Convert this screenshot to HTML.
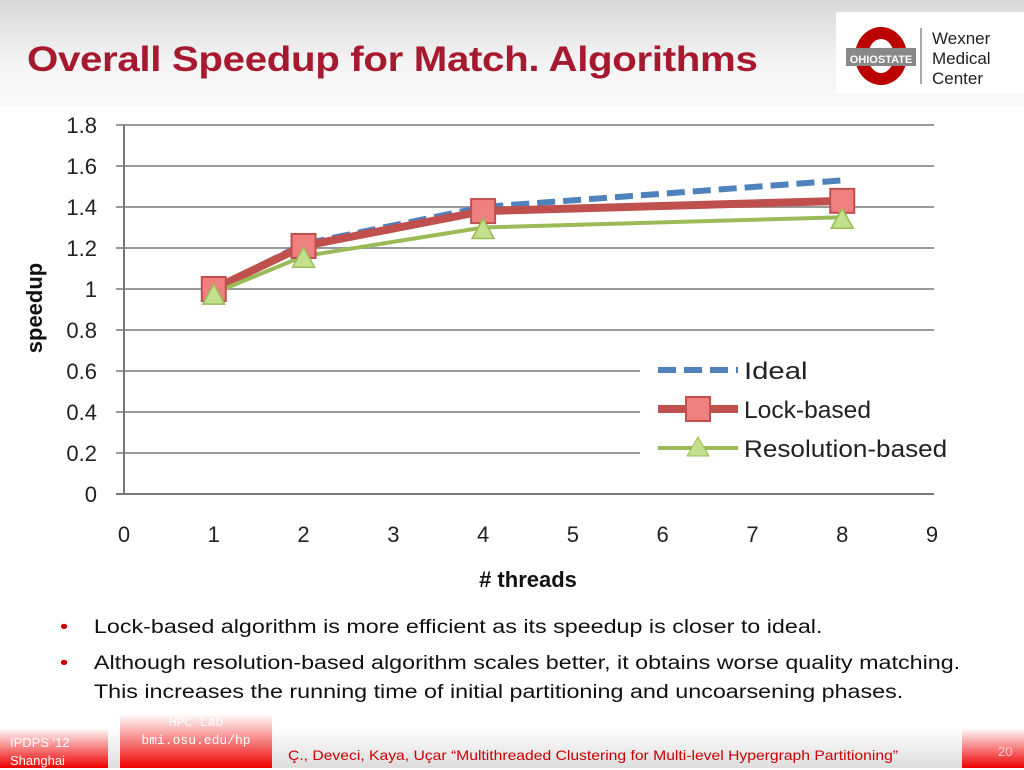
<!DOCTYPE html>
<html><head><meta charset="utf-8"><style>
body{margin:0;width:1024px;height:768px;overflow:hidden;background:#fff;font-family:"Liberation Sans",sans-serif;position:relative}
#hdr{position:absolute;left:0;top:0;width:1024px;height:106px;background:linear-gradient(#d9d9d9,#f4f4f4 60%,#fafafa)}
#title{position:absolute;left:27px;top:40px;font-size:35px;font-weight:bold;color:#a6192e;letter-spacing:-0.3px;transform:scaleX(1.15);transform-origin:left;white-space:nowrap}
#logo{position:absolute;left:836px;top:12px;width:188px;height:82px;background:#fff}
.bul{position:absolute;left:60px;font-size:19px;color:#111;line-height:29px;transform:scaleX(1.226);transform-origin:left;white-space:nowrap}
.bul span{color:#c00;margin-right:21px}
#foot{position:absolute;left:0;top:728px;width:1024px;height:40px;background:linear-gradient(#fff,#ddd)}
</style></head><body>
<div id="hdr"></div>
<div id="title">Overall Speedup for Match. Algorithms</div>
<div id="logo">
<svg width="188" height="82">
<ellipse cx="45" cy="44" rx="26" ry="29" fill="#bb0000"/><ellipse cx="45" cy="44" rx="13" ry="17" fill="#fff"/>
<rect x="10" y="36" width="70" height="18" fill="#888"/>
<text x="45" y="51" font-size="11" font-weight="bold" fill="#fff" text-anchor="middle" font-family="Liberation Sans Narrow,Liberation Sans,sans-serif">OHIOSTATE</text>
<line x1="85" y1="16" x2="85" y2="72" stroke="#aaa" stroke-width="2"/>
<text x="96" y="32" font-size="17" fill="#222">Wexner</text>
<text x="96" y="52" font-size="17" fill="#222">Medical</text>
<text x="96" y="72" font-size="17" fill="#222">Center</text>
</svg></div>
<svg id="chart" width="1024" height="600" style="position:absolute;left:0;top:0"></svg>
<div class="bul" style="top:613px"><span>•</span>Lock-based algorithm is more efficient as its speedup is closer to ideal.</div>
<div class="bul" style="top:649px"><span>•</span>Although resolution-based algorithm scales better, it obtains worse quality matching.<br><span style="visibility:hidden">•</span>This increases the running time of initial partitioning and uncoarsening phases.</div>
<div id="foot">
<div style="position:absolute;left:0;top:0;width:108px;height:40px;background:linear-gradient(#fff,#e00)"><div style="position:absolute;left:10px;top:6px;font-size:13px;color:#fff;line-height:18px;font-family:'Liberation Sans Narrow','Liberation Sans',sans-serif">IPDPS '12<br>Shanghai</div></div>
<div style="position:absolute;left:120px;top:-14px;width:152px;height:54px;background:linear-gradient(#fff,#e00)"><div style="text-align:center;color:#fff;font-size:13px;line-height:18px;font-family:'Liberation Mono',monospace">HPC Lab<br>bmi.osu.edu/hp</div></div>
<div style="position:absolute;left:288px;top:19px;font-size:14px;color:#c00;transform:scaleX(1.12);transform-origin:left;white-space:nowrap">Ç., Deveci, Kaya, Uçar “Multithreaded Clustering for Multi-level Hypergraph Partitioning”</div>
<div style="position:absolute;left:962px;top:0;width:62px;height:40px;background:linear-gradient(#fff,#e00)"><div style="position:absolute;left:36px;top:16px;font-size:13px;color:#fcc">20</div></div>
</div>
<script>
const threads=[1,2,4,8];
const ideal=[1,1.22,1.4,1.53];
const lockBased=[1,1.21,1.38,1.43];
const resolution=[0.98,1.16,1.30,1.35];
const yTicks=[0,0.2,0.4,0.6,0.8,1,1.2,1.4,1.6,1.8];
const yLabels=["0","0.2","0.4","0.6","0.8","1","1.2","1.4","1.6","1.8"];
const xTicks=[0,1,2,3,4,5,6,7,8,9];
const ns="http://www.w3.org/2000/svg",svg=document.getElementById('chart');
const X=v=>124+v*(932-124)/9,Y=v=>494-v*(494-125)/1.8;
function mk(t,a,p){const e=document.createElementNS(ns,t);for(const k in a)e.setAttribute(k,a[k]);(p||svg).appendChild(e);return e;}
yTicks.forEach((v,i)=>{
const l=mk('line',{x1:116,x2:934,y1:Y(v),y2:Y(v),stroke:v===0?'#777':'#999','stroke-width':2});


const t=mk('text',{x:97,y:Y(v)+8,'font-size':22,'text-anchor':'end',fill:'#222'});t.textContent=yLabels[i];


});
mk('line',{x1:124,x2:124,y1:125,y2:494,stroke:'#777','stroke-width':2});
xTicks.forEach(v=>{
const t=mk('text',{x:X(v),y:542,'font-size':22,'text-anchor':'middle',fill:'#222'});t.textContent=v;


});
let t=mk('text',{x:528,y:587,'font-size':22,'font-weight':'bold','text-anchor':'middle',fill:'#111'});t.textContent='# threads';

t=mk('text',{x:0,y:0,'font-size':22,'font-weight':'bold','text-anchor':'middle',fill:'#111',transform:'translate(42,308) rotate(-90)'});t.textContent='speedup';

function pts(a){return a.map((v,i)=>X(threads[i])+','+Y(v)).join(' ');}
let p=mk('polyline',{points:pts(ideal),fill:'none',stroke:'#4f81bd','stroke-width':6,'stroke-dasharray':'18,8'});

p=mk('polyline',{points:pts(lockBased),fill:'none',stroke:'#c0504d','stroke-width':8});

p=mk('polyline',{points:pts(resolution),fill:'none',stroke:'#9bbb59','stroke-width':4});

function sq(x,y){return mk('rect',{x:x-12,y:y-12,width:24,height:24,fill:'#f08080',stroke:'#c0504d','stroke-width':2});}
function tri(x,y){return mk('polygon',{points:`${x},${y-11} ${x-11},${y+9} ${x+11},${y+9}`,fill:'#c3e08c',stroke:'#9bbb59','stroke-width':1.5});}
lockBased.forEach((v,i)=>{const r=sq(X(threads[i]),Y(v));});
resolution.forEach((v,i)=>{const r=tri(X(threads[i]),Y(v)+2);});
const lg=mk('g',{});
mk('rect',{x:640,y:352,width:318,height:118,fill:'#fff'},lg);
mk('line',{x1:658,x2:738,y1:370,y2:370,stroke:'#4f81bd','stroke-width':6,'stroke-dasharray':'18,8'},lg);
mk('line',{x1:658,x2:738,y1:409,y2:409,stroke:'#c0504d','stroke-width':8},lg);
mk('rect',{x:686,y:397,width:24,height:24,fill:'#f08080',stroke:'#c0504d','stroke-width':2},lg);
mk('line',{x1:658,x2:738,y1:448,y2:448,stroke:'#9bbb59','stroke-width':4},lg);
mk('polygon',{points:'698,437 687,456 709,456',fill:'#c3e08c',stroke:'#9bbb59'},lg);
[['Ideal',379],['Lock-based',418],['Resolution-based',457]].forEach(([s,y])=>{const e=mk('text',{x:744,y:y,'font-size':24,fill:'#222',textLength:s.length*12.7,lengthAdjust:'spacingAndGlyphs'},lg);e.textContent=s;
});
</script>
</body></html>
